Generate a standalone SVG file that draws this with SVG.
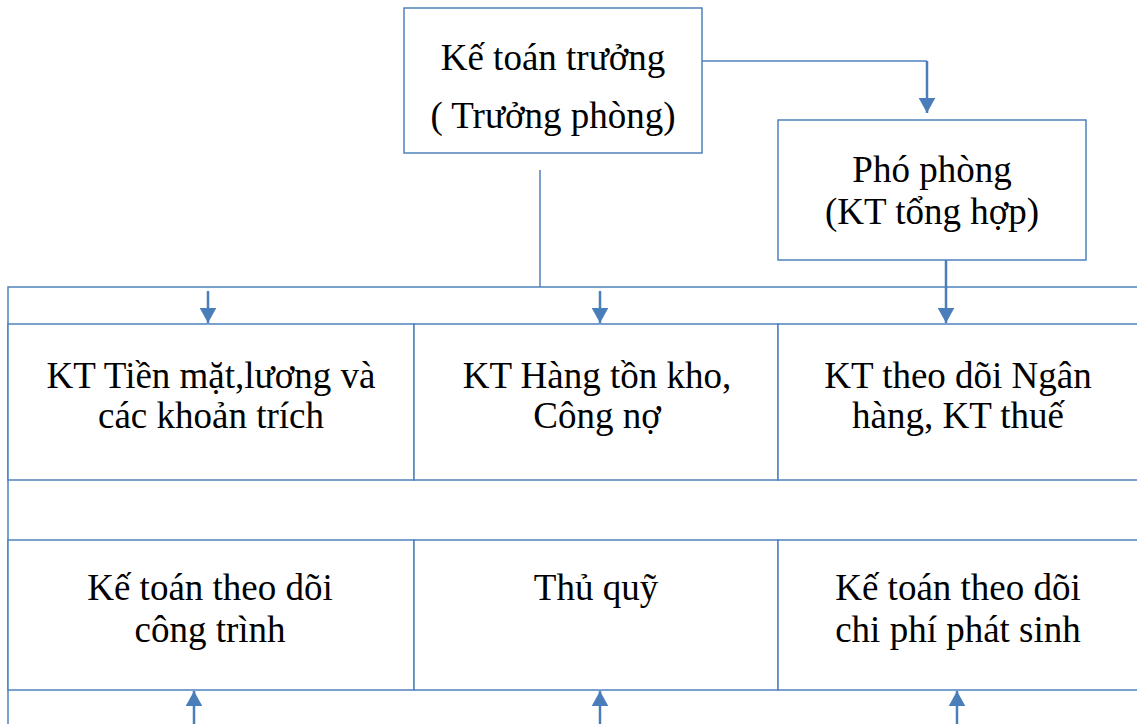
<svg xmlns="http://www.w3.org/2000/svg" width="1137" height="724" viewBox="0 0 1137 724">
<defs>
<style>
.box{fill:#fff;stroke:#4f81bd;stroke-width:1.5}
.ln{fill:none;stroke:#4f81bd;stroke-width:1.5}
.ar{fill:none;stroke:#4a7ebb;stroke-width:2.5}
.t{font-family:'Liberation Serif','DejaVu Serif',serif;font-size:37px;fill:#000;text-anchor:middle}
</style>
<marker id="ah" markerWidth="6.4" markerHeight="6.6" refX="6" refY="3.3" orient="auto" markerUnits="strokeWidth">
<path d="M0,0 L6,3.3 L0,6.6 Z" fill="#4a7ebb"/>
</marker>
</defs>
<g id="connectors">
<polyline class="ln" points="702,61 927,61"/>
<line class="ar" x1="927" y1="61" x2="927" y2="113" marker-end="url(#ah)"/>
<line class="ln" x1="540" y1="170" x2="540" y2="287"/>
<polyline class="ln" points="1145,287 8,287 8,724"/>
<line class="ar" x1="208" y1="291" x2="208" y2="323" marker-end="url(#ah)"/>
<line class="ar" x1="600" y1="291" x2="600" y2="323" marker-end="url(#ah)"/>
<line class="ar" x1="946" y1="260" x2="946" y2="323" marker-end="url(#ah)"/>
<line class="ar" x1="194" y1="724" x2="194" y2="691" marker-end="url(#ah)"/>
<line class="ar" x1="600" y1="724" x2="600" y2="691" marker-end="url(#ah)"/>
<line class="ar" x1="957" y1="724" x2="957" y2="691" marker-end="url(#ah)"/>
</g>
<g id="ke-toan-truong">
<rect class="box" x="404" y="8" width="298" height="145"/>
<text class="t" x="553" y="70">Kế toán trưởng</text>
<text class="t" x="553" y="128">( Trưởng phòng)</text>
</g>
<g id="pho-phong">
<rect class="box" x="778" y="120" width="308" height="140"/>
<text class="t" x="932" y="182">Phó phòng</text>
<text class="t" x="932" y="224">(KT tổng hợp)</text>
</g>
<g id="kt-tien-mat">
<rect class="box" x="8" y="324" width="406" height="156"/>
<text class="t" x="211" y="388">KT Tiền mặt,lương và</text>
<text class="t" x="211" y="428">các khoản trích</text>
</g>
<g id="kt-hang-ton-kho">
<rect class="box" x="414" y="324" width="364" height="156"/>
<text class="t" x="597" y="388">KT Hàng tồn kho,</text>
<text class="t" x="597" y="428">Công nợ</text>
</g>
<g id="kt-ngan-hang">
<rect class="box" x="778" y="324" width="367" height="156"/>
<text class="t" x="958" y="388">KT theo dõi Ngân</text>
<text class="t" x="958" y="428">hàng, KT thuế</text>
</g>
<g id="kt-cong-trinh">
<rect class="box" x="8" y="540" width="406" height="150"/>
<text class="t" x="210" y="600">Kế toán theo dõi</text>
<text class="t" x="210" y="642">công trình</text>
</g>
<g id="thu-quy">
<rect class="box" x="414" y="540" width="364" height="150"/>
<text class="t" x="596" y="600">Thủ quỹ</text>
</g>
<g id="kt-chi-phi">
<rect class="box" x="778" y="540" width="367" height="150"/>
<text class="t" x="958" y="600">Kế toán theo dõi</text>
<text class="t" x="958" y="642">chi phí phát sinh</text>
</g>
</svg>
